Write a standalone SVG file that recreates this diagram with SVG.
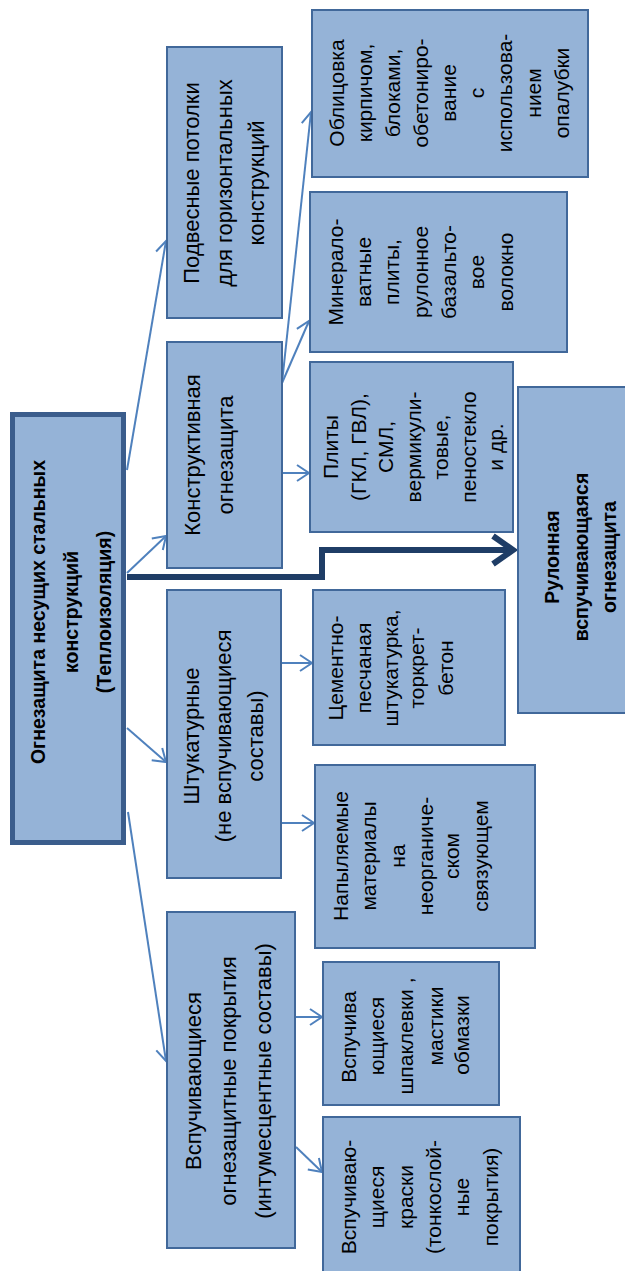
<svg xmlns="http://www.w3.org/2000/svg" width="625" height="1271" viewBox="0 0 625 1271">
<style>
.box{fill:#95b3d7;stroke:#41689a;stroke-width:2}
.main{fill:#95b3d7;stroke:#3b5d8c;stroke-width:5}
.t{font-family:"Liberation Sans",Arial,sans-serif;fill:#000;text-anchor:middle}
.l2{font-size:22px}
.l3{font-size:21px}
.b{font-size:19.5px;font-weight:bold}
.c{fill:none;stroke:#4f81bd;stroke-width:2}
.thick{fill:none;stroke:#1f3d66;stroke-width:6}
</style>
<defs>
<marker id="ah" markerUnits="userSpaceOnUse" markerWidth="20" markerHeight="20" viewBox="-14 -10 16 20" refX="0" refY="0" orient="auto">
<path d="M-12,-8 L0,0 L-12,8" fill="none" stroke="#4f81bd" stroke-width="2"/>
</marker>
</defs>
<rect width="625" height="1271" fill="#fff"/>
<g id="connectors">
<path class="c" d="M127,470 L166,241" marker-end="url(#ah)"/>
<path class="c" d="M127,573 L166,536" marker-end="url(#ah)"/>
<path class="c" d="M127,728 L166,762" marker-end="url(#ah)"/>
<path class="c" d="M128,812 L166,1061" marker-end="url(#ah)"/>
<path class="c" d="M282,383 L311,112" marker-end="url(#ah)"/>
<path class="c" d="M282,383 L309,321" marker-end="url(#ah)"/>
<path class="c" d="M282,473 L309,473" marker-end="url(#ah)"/>
<path class="c" d="M281,663 L312,663" marker-end="url(#ah)"/>
<path class="c" d="M281,823 L314,823" marker-end="url(#ah)"/>
<path class="c" d="M295,1017 L322,1017" marker-end="url(#ah)"/>
<path class="c" d="M296,1147 L322,1172" marker-end="url(#ah)"/>
<path class="thick" d="M127,577 H322 V550 H512"/>
<path class="thick" d="M493,536 L513,550 L493,564" stroke-linejoin="miter"/>
</g>
<g id="n_main">
<rect class="main" x="12.5" y="414.5" width="111" height="428"/>
<text class="t b" transform="rotate(-90)"><tspan x="-612" y="45">Огнезащита несущих стальных</tspan><tspan x="-612" y="78">конструкций</tspan><tspan x="-612" y="111">(Теплоизоляция)</tspan></text>
</g>
<g id="n_podv">
<rect class="box" x="167" y="47" width="115" height="271"/>
<text class="t l2" transform="rotate(-90)"><tspan x="-183" y="199">Подвесные потолки</tspan><tspan x="-183" y="232">для горизонтальных</tspan><tspan x="-183" y="264">конструкций</tspan></text>
</g>
<g id="n_konstr">
<rect class="box" x="167" y="342" width="115" height="226"/>
<text class="t l2" transform="rotate(-90)"><tspan x="-455" y="200">Конструктивная</tspan><tspan x="-455" y="233">огнезащита</tspan></text>
</g>
<g id="n_shtuk">
<rect class="box" x="167" y="590" width="114" height="288"/>
<text class="t l2" transform="rotate(-90)"><tspan x="-736" y="199">Штукатурные</tspan><tspan x="-736" y="231">(не вспучивающиеся</tspan><tspan x="-736" y="263">составы)</tspan></text>
</g>
<g id="n_vspuch">
<rect class="box" x="167" y="912" width="128" height="336"/>
<text class="t l2" transform="rotate(-90)"><tspan x="-1081" y="201">Вспучивающиеся</tspan><tspan x="-1081" y="236">огнезащитные покрытия</tspan><tspan x="-1081" y="271">(интумесцентные составы)</tspan></text>
</g>
<g id="n_oblic">
<rect class="box" x="312" y="10" width="276" height="167"/>
<text class="t l3" transform="rotate(-90)"><tspan x="-93" y="344">Облицовка</tspan><tspan x="-93" y="372">кирпичом,</tspan><tspan x="-93" y="400">блоками,</tspan><tspan x="-93" y="428">обетониро-</tspan><tspan x="-93" y="456">вание</tspan><tspan x="-93" y="484">с</tspan><tspan x="-93" y="512">использова-</tspan><tspan x="-93" y="541">нием</tspan><tspan x="-93" y="569">опалубки</tspan></text>
</g>
<g id="n_miner">
<rect class="box" x="310" y="192" width="257" height="160"/>
<text class="t l3" transform="rotate(-90)"><tspan x="-272" y="343">Минерало-</tspan><tspan x="-272" y="371">ватные</tspan><tspan x="-272" y="399">плиты,</tspan><tspan x="-272" y="428">рулонное</tspan><tspan x="-272" y="456">базальто-</tspan><tspan x="-272" y="484">вое</tspan><tspan x="-272" y="513">волокно</tspan></text>
</g>
<g id="n_plity">
<rect class="box" x="310" y="362" width="203" height="170"/>
<text class="t l3" transform="rotate(-90)"><tspan x="-447" y="338">Плиты</tspan><tspan x="-447" y="365.5">(ГКЛ, ГВЛ),</tspan><tspan x="-447" y="393">СМЛ,</tspan><tspan x="-447" y="420.5">вермикули-</tspan><tspan x="-447" y="448">товые,</tspan><tspan x="-447" y="475.5">пеностекло</tspan><tspan x="-447" y="503">и др.</tspan></text>
</g>
<g id="n_rulon">
<rect class="box" x="518" y="387" width="112" height="326"/>
<text class="t b" transform="rotate(-90)"><tspan x="-557" y="559">Рулонная</tspan><tspan x="-557" y="588">вспучивающаяся</tspan><tspan x="-557" y="616">огнезащита</tspan></text>
</g>
<g id="n_cement">
<rect class="box" x="313" y="590" width="192" height="155"/>
<text class="t l3" transform="rotate(-90)"><tspan x="-668" y="343">Цементно-</tspan><tspan x="-668" y="371">песчаная</tspan><tspan x="-668" y="398">штукатурка,</tspan><tspan x="-668" y="424">торкрет-</tspan><tspan x="-668" y="453">бетон</tspan></text>
</g>
<g id="n_napyl">
<rect class="box" x="315" y="765" width="220" height="183"/>
<text class="t l3" transform="rotate(-90)"><tspan x="-856" y="348">Напыляемые</tspan><tspan x="-856" y="376">материалы</tspan><tspan x="-856" y="405">на</tspan><tspan x="-856" y="433">неорганиче-</tspan><tspan x="-856" y="459">ском</tspan><tspan x="-856" y="488">связующем</tspan></text>
</g>
<g id="n_shpakl">
<rect class="box" x="323" y="962" width="176" height="143"/>
<text class="t l3" transform="rotate(-90)"><tspan x="-1037" y="356">Вспучива</tspan><tspan x="-1036" y="384">ющиеся</tspan><tspan x="-1036" y="413">шпаклевки ,</tspan><tspan x="-1026" y="443">мастики</tspan><tspan x="-1035" y="469">обмазки</tspan></text>
</g>
<g id="n_kraski">
<rect class="box" x="323" y="1117" width="197" height="170"/>
<text class="t l3" transform="rotate(-90)"><tspan x="-1197" y="356">Вспучиваю-</tspan><tspan x="-1197" y="384">щиеся</tspan><tspan x="-1197" y="413">краски</tspan><tspan x="-1197" y="441">(тонкослой-</tspan><tspan x="-1197" y="469">ные</tspan><tspan x="-1197" y="498">покрытия)</tspan></text>
</g>
</svg>
